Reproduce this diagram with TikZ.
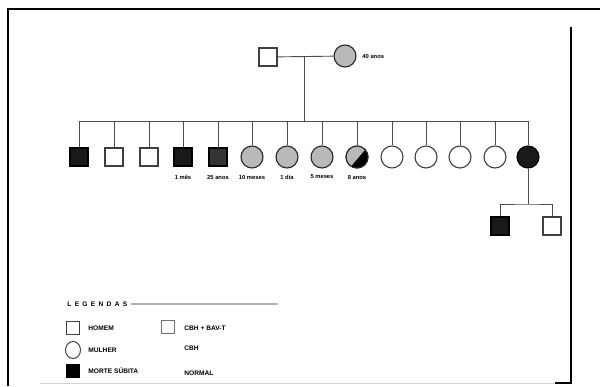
\documentclass[tikz,border=0pt]{standalone}
\usepackage{fontspec}
\setmainfont{Liberation Sans}
\usetikzlibrary{shapes.geometric}
\begin{document}
\begin{tikzpicture}[x=1pt,y=-1pt,line width=0.9pt,
  link/.style={draw=black!70,line width=0.9pt},
  sq/.style={rectangle,draw=black!75,fill=white,minimum size=18pt,inner sep=0pt,line width=1.1pt},
  ci/.style={circle,draw=black!75,fill=white,minimum size=22pt,inner sep=0pt,line width=1.1pt},
  aff/.style={fill=black!90,draw=black},
  gr/.style={fill=gray!55,draw=black!85},
  lab/.style={font=\bfseries\fontsize{5.8}{6}\selectfont,inner sep=0pt},
  leg/.style={font=\bfseries\fontsize{6.6}{7}\selectfont,inner sep=0pt,anchor=west},
  lsq/.style={rectangle,draw=black!75,fill=white,minimum size=13pt,inner sep=0pt,line width=1pt},
  lci/.style={ellipse,draw=black!75,fill=white,minimum width=15pt,minimum height=17pt,inner sep=0pt,line width=1pt}]
\useasboundingbox (0,0) rectangle (600,386);
% frame
\draw[line width=1.2pt] (8,386) -- (8,9) -- (600,9);
\draw[gray!35,line width=1pt] (40,383) -- (555,383);
\draw[line width=1.2pt] (571,27) -- (571,383) -- (555,383);
% parents
\node[sq] (f) at (268,57) {};
\node[ci,gr] (m) at (345,56) {};
\node[lab,anchor=west] (mlab) at (362,57) {40 anos};
\draw[link] (f) -- (m);
\coordinate (d) at (304,56);
\coordinate (sl) at (304,121);
\draw[link] (d) -- (sl);
% children
\node[sq,aff] (c1) at (79,157) {};
\node[sq] (c2) at (114,157) {};
\node[sq] (c3) at (149,157) {};
\node[sq,aff] (c4) at (183,157) {};
\node[sq,fill=black!80,draw=black] (c5) at (218,157) {};
\node[ci,gr] (c6) at (252,157) {};
\node[ci,gr] (c7) at (287,157) {};
\node[ci,gr] (c8) at (322,157) {};
\node[ci] (c9) at (357,157) {};
\begin{scope}
\clip (357,157) circle (11pt);
\fill[gray!55] (340,140) rectangle (375,175);
\fill[black] (370,144) -- (370,175) -- (344,175) -- cycle;
\end{scope}
\draw[black!85,line width=1.1pt] (357,157) circle (11pt);
\node[ci] (c10) at (392,157) {};
\node[ci] (c11) at (426,157) {};
\node[ci] (c12) at (460,157) {};
\node[ci] (c13) at (495,157) {};
\node[ci,aff] (c14) at (528,157) {};
\draw[link] (c1.north) -- (c1.north |- sl) -- (c14.north |- sl) -- (c14.north);
\foreach \i in {2,...,13} { \draw[link] (c\i.north) -- (c\i.north |- sl); }
% labels
\node[lab] (l4) at (183,177) {1 mês};
\node[lab] (l5) at (218,177) {25 anos};
\node[lab] (l6) at (252,177) {10 meses};
\node[lab] (l7) at (287,177) {1 dia};
\node[lab] (l8) at (322,177) {5 meses};
\node[lab] (l9) at (357,177) {8 anos};
% grandchildren
\node[sq,aff] (g1) at (500,226) {};
\node[sq] (g2) at (552,226) {};
\coordinate (h) at (528,204);
\draw[link] (c14.south) -- (h);
\draw[link] (g1.north) |- (h) -| (g2.north);
% legend
\node[leg] (lt) at (67,304) {L\,\,\,E\,\,\,G\,\,\,E\,\,\,N\,\,\,D\,\,\,A\,\,\,S};
\coordinate (ll) at (278,304);
\draw[gray!60,line width=1.2pt] (lt.east) ++(3,0) coordinate (lr) -- (ll);
\node[lsq] (k1) at (73,328) {};
\node[leg] (t1) at (88,328) {HOMEM};
\node[lci] (k2) at (73,350) {};
\node[leg] (t2) at (88,350) {MULHER};
\node[lsq,fill=black,draw=black] (k3) at (73,371) {};
\node[leg] (t3) at (88,371) {MORTE SÚBITA};
\node[lsq,draw=black!55] (k4) at (168,327) {};
\node[leg] (t4) at (184,328) {CBH + BAV-T};
\node[leg] (t5) at (184,348) {CBH};
\node[leg] (t6) at (184,373) {NORMAL};
\end{tikzpicture}
\end{document}
